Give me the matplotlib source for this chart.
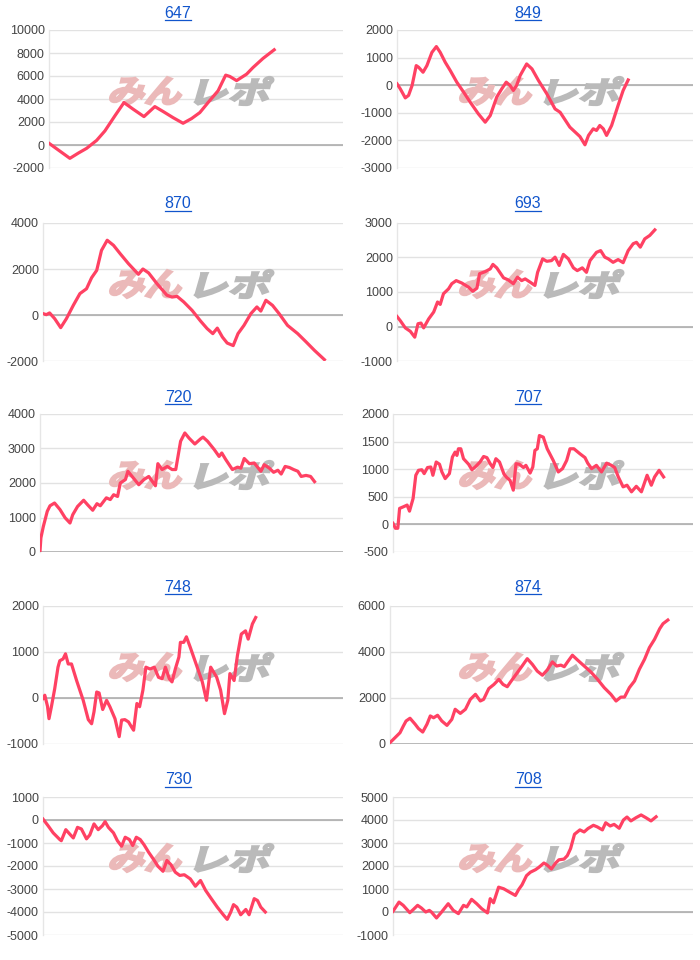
import matplotlib

matplotlib.use("Agg")
import matplotlib.pyplot as plt
import numpy as np
from matplotlib.font_manager import FontProperties
from matplotlib.lines import Line2D
from matplotlib.patches import PathPatch
from matplotlib.textpath import TextPath
from matplotlib.transforms import Affine2D, IdentityTransform

plt.rcParams["font.family"] = ["Liberation Sans", "DejaVu Sans"]

# machine numbers, in reading order (left-right, top-bottom)
machines = ["647", "849", "870", "693", "720", "707", "748", "874", "730", "708"]

# y-axis ranges (min, max, step)
y_ranges = [
    (-2000, 10000, 2000), (-3000, 2000, 1000),
    (-2000, 4000, 2000), (-1000, 3000, 1000),
    (0, 4000, 1000), (-500, 2000, 500),
    (-1000, 2000, 1000), (0, 6000, 2000),
    (-5000, 1000, 1000), (-1000, 5000, 1000),
]

# x: progress through the day (0-1000 scale), y: cumulative difference
x_647 = [0, 32, 71, 100, 128, 162, 190, 224, 255, 287, 323, 360, 389, 422, 456, 485, 513, 541, 575, 590, 601, 615, 638, 672, 694, 728, 766]
y_647 = [150, -440, -1160, -700, -290, 400, 1220, 2530, 3690, 3100, 2470, 3340, 2900, 2380, 1890, 2300, 2820, 3690, 4710, 5500, 6075, 5960, 5600, 6160, 6740, 7530, 8280]

x_849 = [0, 11, 28, 39, 51, 65, 73, 88, 101, 118, 133, 146, 163, 180, 202, 225, 247, 275, 298, 315, 337, 354, 369, 382, 393, 404, 416, 438, 456, 478, 506, 534, 551, 584, 618, 635, 647, 663, 674, 685, 697, 708, 725, 747, 764, 781]
y_849 = [50, -130, -460, -370, -10, 710, 650, 470, 710, 1190, 1400, 1190, 830, 530, 110, -250, -610, -1040, -1340, -1100, -430, -130, 110, -10, -190, -10, 350, 770, 590, 170, -310, -860, -980, -1520, -1860, -2160, -1820, -1580, -1640, -1460, -1580, -1820, -1460, -730, -190, 190]

x_870 = [0, 11, 22, 39, 59, 78, 101, 123, 145, 162, 179, 195, 214, 235, 257, 285, 318, 333, 352, 380, 413, 430, 447, 469, 497, 525, 547, 566, 581, 598, 614, 634, 650, 670, 693, 713, 726, 743, 765, 787, 815, 849, 877, 905, 938]
y_870 = [60, 15, 90, -160, -550, -160, 420, 930, 1140, 1620, 1940, 2810, 3250, 3030, 2670, 2230, 1770, 2000, 1830, 1360, 860, 780, 810, 570, 200, -260, -590, -810, -570, -960, -1220, -1330, -810, -450, 60, 350, 170, 640, 420, 60, -450, -810, -1170, -1540, -1940]

x_693 = [0, 11, 28, 45, 60, 71, 81, 90, 107, 124, 137, 146, 157, 174, 185, 200, 219, 242, 256, 270, 279, 298, 315, 324, 337, 360, 376, 393, 407, 421, 433, 449, 466, 475, 492, 506, 522, 534, 548, 562, 579, 596, 609, 626, 640, 652, 674, 688, 702, 714, 730, 747, 764, 781, 798, 809, 822, 837, 854, 871]
y_693 = [290, 170, -40, -140, -310, 80, 100, -40, 220, 420, 710, 640, 950, 1090, 1240, 1330, 1260, 1140, 1020, 1110, 1530, 1590, 1670, 1800, 1700, 1410, 1350, 1240, 1430, 1330, 1380, 1290, 1190, 1570, 1960, 1890, 1910, 2010, 1770, 2090, 1960, 1700, 1620, 1700, 1570, 1910, 2150, 2200, 2010, 1960, 1860, 1940, 1850, 2200, 2400, 2440, 2300, 2540, 2640, 2800]

x_720 = [0, 3, 11, 24, 33, 48, 66, 83, 99, 108, 124, 144, 157, 174, 188, 199, 219, 232, 243, 256, 265, 282, 290, 304, 326, 343, 359, 381, 389, 403, 420, 436, 448, 464, 478, 492, 511, 530, 538, 553, 575, 591, 600, 613, 635, 652, 663, 674, 691, 707, 729, 740, 757, 771, 785, 796, 809, 823, 837, 851, 862, 878, 893, 906]
y_720 = [20, 410, 740, 1180, 1340, 1420, 1230, 990, 840, 1080, 1320, 1500, 1370, 1210, 1400, 1340, 1570, 1520, 1660, 1610, 2000, 2100, 2340, 2190, 1950, 2100, 2190, 1920, 2560, 2390, 2480, 2390, 2390, 3210, 3450, 3300, 3130, 3280, 3330, 3210, 2970, 2770, 2870, 2680, 2390, 2460, 2430, 2710, 2560, 2580, 2340, 2530, 2430, 2310, 2370, 2260, 2480, 2450, 2390, 2340, 2190, 2220, 2190, 2040]

x_707 = [0, 8, 16, 22, 35, 47, 55, 67, 76, 85, 96, 104, 115, 126, 133, 144, 155, 163, 174, 188, 198, 207, 213, 218, 226, 235, 252, 263, 274, 290, 302, 313, 324, 333, 343, 355, 370, 379, 390, 401, 410, 421, 435, 443, 457, 466, 473, 481, 488, 501, 514, 534, 551, 565, 579, 590, 603, 623, 640, 649, 662, 678, 695, 712, 728, 739, 751, 767, 780, 795, 811, 828, 847, 861, 872, 887, 902]
y_707 = [20, -70, -70, 290, 320, 350, 240, 470, 890, 980, 990, 920, 1030, 1040, 890, 1130, 1090, 950, 830, 920, 1220, 1310, 1250, 1370, 1370, 1190, 1090, 990, 1040, 1130, 1230, 1210, 1100, 1030, 1190, 1130, 910, 850, 800, 620, 1100, 1090, 1030, 1070, 930, 1040, 1340, 1370, 1610, 1580, 1370, 1160, 950, 1010, 1160, 1370, 1370, 1280, 1210, 1110, 1010, 1070, 950, 1110, 1070, 1030, 860, 680, 710, 590, 690, 590, 890, 710, 860, 980, 860]

x_748 = [0, 6, 15, 20, 28, 39, 50, 56, 67, 75, 84, 95, 112, 134, 151, 162, 170, 179, 187, 199, 212, 223, 240, 254, 262, 273, 285, 296, 302, 313, 322, 333, 343, 357, 371, 385, 397, 408, 421, 430, 441, 453, 458, 469, 478, 491, 514, 531, 545, 559, 579, 592, 605, 616, 623, 637, 648, 661, 675, 684, 698, 709]
y_748 = [-10, 60, -180, -450, -190, 200, 670, 810, 850, 960, 740, 740, 380, -50, -470, -560, -300, 130, 110, -250, -50, -190, -450, -840, -480, -470, -520, -640, -700, -120, -190, 170, 670, 630, 670, 450, 420, 670, 420, 350, 630, 890, 1210, 1210, 1330, 1100, 670, 350, -50, 670, 450, 170, -340, -50, 530, 380, 920, 1390, 1460, 1280, 1610, 1750]

x_874 = [0, 17, 33, 44, 53, 66, 83, 94, 108, 122, 133, 144, 157, 171, 188, 204, 215, 232, 249, 265, 282, 298, 309, 326, 343, 359, 373, 387, 398, 420, 436, 453, 470, 486, 503, 519, 536, 550, 564, 575, 586, 602, 619, 641, 663, 685, 707, 729, 746, 762, 774, 790, 807, 823, 840, 856, 873, 890, 901, 917]
y_874 = [60, 280, 490, 780, 1000, 1120, 860, 670, 520, 860, 1220, 1140, 1250, 1000, 810, 1070, 1510, 1330, 1510, 1940, 2160, 1870, 1940, 2410, 2590, 2810, 2590, 2490, 2700, 3100, 3390, 3710, 3460, 3170, 2990, 3220, 3570, 3390, 3430, 3360, 3570, 3860, 3650, 3390, 3130, 2810, 2450, 2160, 1870, 2040, 2040, 2450, 2740, 3250, 3680, 4190, 4550, 5010, 5230, 5390]

x_730 = [0, 17, 34, 56, 61, 76, 89, 101, 115, 128, 145, 156, 170, 184, 198, 207, 218, 235, 248, 262, 274, 288, 299, 311, 324, 337, 352, 369, 383, 400, 413, 427, 441, 456, 471, 491, 508, 525, 542, 561, 581, 601, 614, 626, 635, 646, 659, 676, 687, 704, 715, 726, 741]
y_730 = [40, -250, -560, -850, -900, -420, -610, -780, -320, -390, -820, -650, -170, -420, -250, -70, -320, -560, -900, -1140, -750, -850, -1110, -750, -850, -1080, -1400, -1720, -2010, -2230, -1760, -1950, -2270, -2410, -2380, -2560, -2880, -2630, -3060, -3420, -3790, -4120, -4320, -4000, -3680, -3790, -4120, -3890, -4120, -3420, -3500, -3790, -4000]

x_708 = [0, 20, 34, 56, 67, 82, 95, 109, 121, 128, 145, 162, 184, 201, 218, 235, 246, 262, 279, 296, 315, 324, 335, 352, 369, 389, 408, 419, 430, 445, 458, 475, 486, 503, 514, 528, 542, 553, 570, 581, 592, 605, 623, 637, 650, 668, 681, 698, 709, 724, 737, 754, 768, 780, 793, 810, 827, 843, 860, 877]
y_708 = [30, 430, 290, -30, 100, 290, 170, 0, 70, 0, -260, 0, 360, 70, -70, 290, 220, 550, 360, 140, -40, 580, 400, 1080, 1010, 860, 720, 980, 1180, 1580, 1730, 1840, 1940, 2130, 2040, 1870, 2130, 2270, 2300, 2450, 2760, 3380, 3570, 3480, 3630, 3770, 3700, 3570, 3880, 3740, 3810, 3640, 4000, 4130, 3960, 4100, 4220, 4100, 3960, 4140]

series_x = [x_647, x_849, x_870, x_693, x_720, x_707, x_748, x_874, x_730, x_708]
series_y = [y_647, y_849, y_870, y_693, y_720, y_707, y_748, y_874, y_730, y_708]

W, H = 700, 960
LINE_COLOR = "#ff4163"
TITLE_COLOR = "#1155cc"

# layout in pixels
row_tops = [30, 223, 414, 606, 797]
plot_h = 138
plot_lefts = [49, 397, 43, 397, 40, 393, 43, 390, 43, 393]
col_rights = [343, 693]
title_cx = [178, 528]
title_y = [13, 204, 397, 587, 780]

fig = plt.figure(figsize=(W / 100, H / 100), dpi=100)
fig.patch.set_facecolor("white")

jp_font = FontProperties(family=["Noto Sans CJK JP"], weight="bold")


def add_watermark(ax, text, left, width, baseline, height, color):
    # logo text, stretched into a box and slanted; pixel coords with y from top
    tp = TextPath((0, 0), text, size=40, prop=jp_font)
    ext = tp.get_extents()
    tr = (
        Affine2D()
        .translate(-ext.x0, -ext.y0)
        .scale(width * 0.86 / ext.width, height / ext.height)
        .skew_deg(16, 0)
        .translate(left, H - baseline)
    )
    patch = PathPatch(tr.transform_path(tp), facecolor=color, edgecolor=color,
                      linewidth=1.6, joinstyle="miter",
                      transform=IdentityTransform(), zorder=1.5, clip_on=False)
    ax.add_artist(patch)


titles = []
for i, name in enumerate(machines):
    row, col = divmod(i, 2)
    top = row_tops[row]
    left = plot_lefts[i]
    right = col_rights[col]
    ax = fig.add_axes([left / W, 1 - (top + plot_h) / H, (right - left) / W, plot_h / H])
    ax.set_facecolor("none")

    ymin, ymax, step = y_ranges[i]
    ticks = np.arange(ymin, ymax + step / 2, step)
    ax.set_yticks(ticks)
    ax.set_yticklabels([f"{int(t)}" for t in ticks])
    ax.grid(axis="y", color="#e2e2e2", linewidth=1.0)
    ax.set_axisbelow(True)
    ax.axhline(0, color="#a8a8a8", linewidth=1.1, zorder=1)

    ax.plot(series_x[i], series_y[i], color=LINE_COLOR, linewidth=2.3, zorder=3,
            solid_joinstyle="round")

    ax.set_xlim(0, 1000)
    ax.set_ylim(ymin, ymax)
    ax.set_xticks([])
    ax.tick_params(axis="y", length=0, pad=3, labelsize=9, labelcolor="#444444")
    for side in ["top", "right", "bottom"]:
        ax.spines[side].set_visible(False)
    ax.spines["left"].set_color("#e6e6e6")
    ax.spines["left"].set_linewidth(1.0)

    # watermark logo
    wm_left = 108 + col * 350
    wm_base = top + 75
    add_watermark(ax, "みん", wm_left, 82, wm_base, 28, "#ebb9b9")
    add_watermark(ax, "レポ", wm_left + 86, 84, wm_base, 28, "#bababa")

    t = fig.text(title_cx[col] / W, 1 - title_y[row] / H, name, color=TITLE_COLOR,
                 fontsize=11.5, ha="center", va="center")
    titles.append(t)

# underline the titles (they are links in the original)
fig.canvas.draw()
renderer = fig.canvas.get_renderer()
for t in titles:
    bb = t.get_window_extent(renderer)
    fig.add_artist(Line2D([bb.x0, bb.x1], [bb.y0 + 1, bb.y0 + 1], color=TITLE_COLOR,
                          linewidth=0.9, transform=IdentityTransform()))

fig.savefig("out.png", dpi=100, facecolor="white")
